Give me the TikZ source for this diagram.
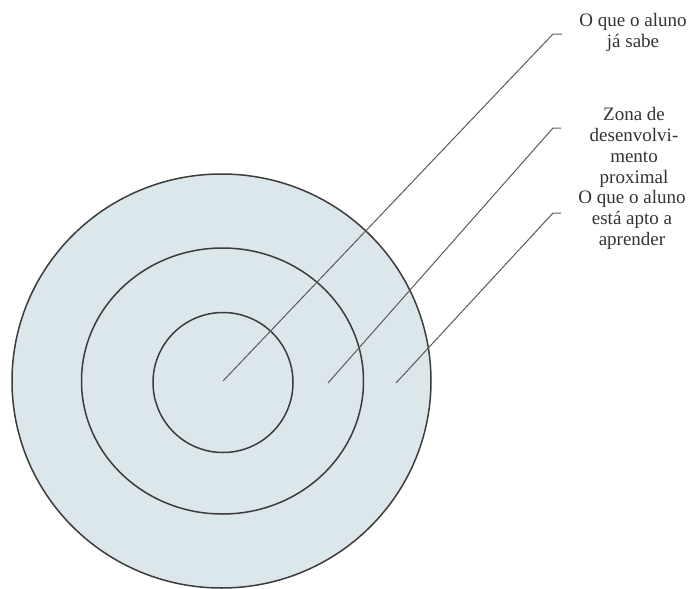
\documentclass[tikz,border=0pt]{standalone}
\usepackage{fontspec}
\setmainfont{Liberation Serif}
\definecolor{discfill}{RGB}{220,231,235}
\definecolor{ringline}{RGB}{60,60,60}
\definecolor{leadline}{RGB}{90,90,90}
\begin{document}
\begin{tikzpicture}[x=1pt,y=-1pt,
  ring/.style={draw=ringline,line width=1.5pt},
  leader/.style={draw=leadline,line width=1pt},
  lbl/.style={anchor=north,inner sep=0pt,align=center,
    font=\fontsize{19}{21}\selectfont,text=black!80}]
\useasboundingbox (0,0) rectangle (691,589);
% circles
\fill[discfill] (221.5,381) ellipse [x radius=209.5,y radius=207];
\draw[ring] (221.5,381) ellipse [x radius=209.5,y radius=207];
\draw[ring] (222.5,381) ellipse [x radius=141,y radius=133];
\draw[ring] (223,382.5) ellipse [x radius=70,y radius=70];
% labels
\node[lbl] (sabe) at (633,13) {O que o aluno\\já sabe};
\node[lbl] (zdp) at (634,107) {Zona de\\desenvolvi-\\mento\\proximal};
\node[lbl] (apto) at (632,190) {O que o aluno\\está apto a\\aprender};
% leader endpoints
\coordinate (s1) at (223,381);
\coordinate (e1) at (553,34);
\coordinate (t1) at (562,34);
\coordinate (s2) at (328,383);
\coordinate (e2) at (553,128);
\coordinate (t2) at (561,128);
\coordinate (s3) at (396,383);
\coordinate (e3) at (553,213);
\coordinate (t3) at (561,213);
\draw[leader] (s1) -- (e1) -- (t1);
\draw[leader] (s2) -- (e2) -- (t2);
\draw[leader] (s3) -- (e3) -- (t3);
\end{tikzpicture}
\end{document}
